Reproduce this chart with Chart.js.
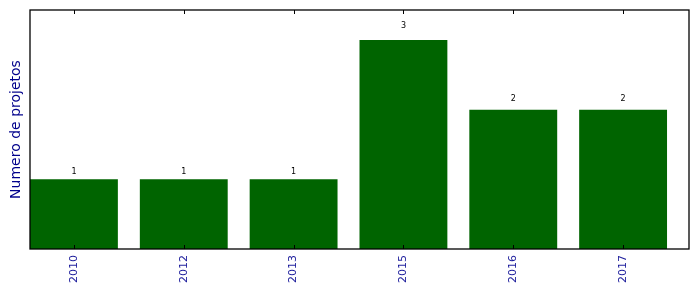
<!DOCTYPE html>
<html>
<head>
<meta charset="utf-8">
<script src="https://cdn.jsdelivr.net/npm/chart.js@4/dist/chart.umd.min.js"></script>
<style>
  html, body { margin: 0; padding: 0; background: #fff; }
  #wrap { width: 699px; height: 292px; }
</style>
</head>
<body>
<div id="wrap"><canvas id="chart"></canvas></div>
<script>
const years = ["2010", "2012", "2013", "2015", "2016", "2017"];
const projetos = [1, 1, 1, 3, 2, 2];

const ctx = document.getElementById("chart");

// frame, inner tick marks and value labels like the original figure
const extras = {
  id: "extras",
  afterDatasetsDraw(chart) {
    const { ctx, chartArea: a, scales } = chart;
    ctx.save();
    ctx.strokeStyle = "#000";
    ctx.lineWidth = 1;
    years.forEach((y, i) => {
      const px = Math.round(scales.x.getPixelForValue(i)) + 0.5;
      ctx.beginPath();
      ctx.moveTo(px, a.top); ctx.lineTo(px, a.top + 4);
      ctx.moveTo(px, a.bottom); ctx.lineTo(px, a.bottom - 4);
      ctx.stroke();
    });
    ctx.lineWidth = 1.3;
    ctx.strokeRect(a.left, a.top, a.right - a.left, a.bottom - a.top);

    // labels sit at 1.05 x the bar height
    ctx.fillStyle = "#000";
    ctx.font = "8px 'DejaVu Sans'";
    ctx.textAlign = "center";
    ctx.textBaseline = "bottom";
    const meta = chart.getDatasetMeta(0);
    meta.data.forEach((bar, i) => {
      ctx.fillText(String(projetos[i]), bar.x, scales.y.getPixelForValue(projetos[i] * 1.05));
    });
    ctx.restore();
  }
};

const config = {
  type: "bar",
  data: {
    datasets: [
      {
        data: projetos.map((v, i) => ({ x: i, y: v })),
        backgroundColor: "#006400",
        borderWidth: 0,
        categoryPercentage: 1,
        barPercentage: 0.8,
      },
    ],
  },
  options: {
    responsive: true,
    maintainAspectRatio: false,
    animation: false,
    layout: { padding: { top: 10, right: 10, left: 0, bottom: 0 } },
    plugins: { legend: { display: false }, tooltip: { enabled: false } },
    scales: {
      x: {
        type: "linear",
        offset: false,
        min: -0.4,
        max: 5.6,
        grid: { display: false, drawTicks: false, offset: false },
        border: { display: false },
        afterBuildTicks: (scale) => {
          scale.ticks = years.map((y, i) => ({ value: i }));
        },
        afterFit: (scale) => { scale.height = 43; },
        ticks: {
          autoSkip: false,
          minRotation: 90,
          maxRotation: 90,
          padding: 6,
          color: "#1c1c9c",
          font: { family: "DejaVu Sans", size: 11 },
          callback: (v) => years[v],
        },
      },
      y: {
        min: 0,
        max: 3.43,
        grid: { display: false, drawTicks: false },
        border: { display: false },
        ticks: { display: false },
        afterFit: (scale) => { scale.width = 30; },
        title: {
          display: true,
          text: "Numero de projetos",
          color: "#00008b",
          font: { family: "DejaVu Sans", size: 14 },
          padding: { top: 8, bottom: 0 },
        },
      },
    },
  },
  plugins: [extras],
};
const chart = new Chart(ctx, config);
</script>
</body>
</html>
